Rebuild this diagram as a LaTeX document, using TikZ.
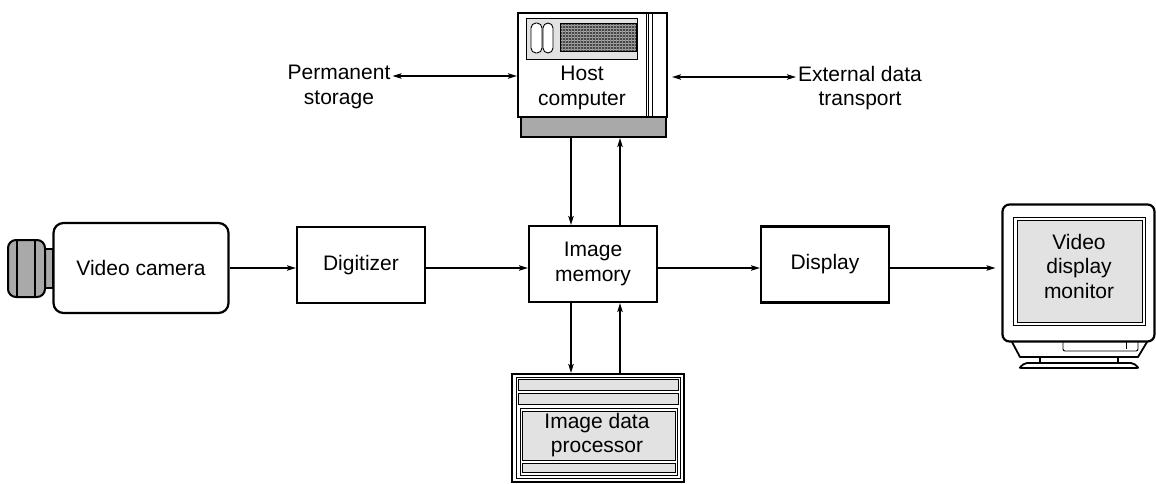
\documentclass[tikz,border=0pt]{standalone}
\usepackage{fontspec}
\setmainfont{Liberation Sans}
\usetikzlibrary{arrows.meta}
\definecolor{panel}{HTML}{E2E2E2}
\definecolor{metal}{HTML}{A9A9A9}
\begin{document}
\begin{tikzpicture}[x=1pt,y=-1pt,
  font=\fontsize{21}{24.5}\selectfont,
  box/.style={draw, line width=2.2pt, fill=white, minimum width=128pt, minimum height=76pt, inner sep=0pt, align=center},
  detail/.style={line width=0.9pt},
  heavy/.style={line width=2pt},
  flow/.style={line width=1.1pt, -{Stealth[length=9pt,width=5.5pt,inset=2pt]}},
  flowboth/.style={line width=1.1pt, {Stealth[length=9pt,width=5.5pt,inset=2pt]}-{Stealth[length=9pt,width=5.5pt,inset=2pt]}},
  sidetext/.style={align=center, inner sep=2pt},
]
\useasboundingbox (0,0) rectangle (1156,483);

% ---------- video camera ----------
\draw[line width=1.5pt, fill=metal] (45,249) rectangle (53,288);
\draw[heavy, fill=metal, rounded corners=8pt] (8,240) rectangle (45,297);
\draw[heavy] (17,240) -- (17,297);
\draw[heavy] (35,240) -- (35,297);
\node[draw, line width=2.2pt, fill=white, rounded corners=10pt,
      minimum width=175pt, minimum height=90pt, inner sep=0pt] (cam) at (141,268) {Video camera};

% ---------- processing chain ----------
\node[box] (dig)  at (361,265)   {Digitizer};
\node[box] (mem)  at (593,264)   {Image\\memory};
\node[box] (disp) at (825,264.5) {Display};

% ---------- host computer ----------
\node[draw, line width=2.2pt, minimum width=149pt, minimum height=104pt, inner sep=0pt] (host) at (592.5,65) {};
\node[draw, line width=2.2pt, fill=metal, minimum width=145pt, minimum height=20pt, inner sep=0pt] (hostbase) at (593.5,127) {};
\draw[detail, fill=panel] (526,18) rectangle (637,59);
\draw[detail, fill=white, rounded corners=5pt] (531,23) rectangle (542,53);
\draw[detail, fill=white, rounded corners=5pt] (543,23) rectangle (553,53);
\fill[black!72] (560,23) rectangle (636,51);
\foreach \yy in {25.5,28.5,...,50} \draw[black!35, line width=0.5pt] (560,\yy) -- (636,\yy);
\foreach \xx in {562,565,...,635} \draw[black!45, line width=0.4pt] (\xx,23) -- (\xx,51);
\draw[detail] (560,23) rectangle (636,51);
\draw[detail] (646,13) -- (646,117);
\draw[detail] (648.5,13) -- (648.5,117);
\draw[detail] (652,13) -- (652,117);
\node[align=center, inner sep=0pt] (hosttext) at (582,88) {Host\\computer};

% ---------- side links of the host ----------
\node[sidetext] (perm) at (339,87) {Permanent\\storage};
\node[sidetext] (ext)  at (860,88) {External data\\transport};
\coordinate (permA) at ([yshift=11pt]perm.east);
\coordinate (extA)  at ([yshift=11pt]ext.west);
\draw[flowboth] (permA) -- (permA -| host.west);
\draw[flowboth, shorten <=4pt] (extA -| host.east) -- (extA);

% ---------- image data processor ----------
\node[draw, line width=2.2pt, minimum width=172pt, minimum height=108pt, inner sep=0pt] (proc) at (598,428) {};
\draw[detail] (516,377.5) rectangle (680,478.5);
\draw[detail, fill=panel] (518,379) rectangle (678,390);
\draw[detail, fill=panel] (518,393) rectangle (678,404);
\draw[detail] (520,408) rectangle (677,475);
\draw[detail, fill=panel] (522,411) rectangle (675,460);
\draw[detail, fill=panel] (522,463) rectangle (675,472);
\node[align=center, inner sep=0pt] (proctext) at (597,435) {Image data\\processor};

% ---------- video display monitor ----------
\node[draw, line width=2.2pt, rounded corners=7pt, minimum width=152pt, minimum height=137pt, inner sep=0pt] (mon) at (1078.5,273) {};
\draw[detail, fill=white] (1013,217) rectangle (1145,325);
\draw[detail, fill=panel] (1017,220) rectangle (1142,322);
\node[align=center, inner sep=0pt] (montext) at (1079,266) {Video\\display\\monitor};
\draw[line width=1.8pt, line join=round] (1012,342) -- (1020,357) -- (1138,357) -- (1147,342);
\draw[detail, rounded corners=2pt] (1063,342) -- (1063,351) -- (1138,351) -- (1138,342);
\draw[detail] (1126,342) -- (1126,349);
\draw[line width=1.8pt] (1040,357) -- (1040,363);
\draw[line width=1.8pt] (1118,357) -- (1118,363);
\draw[line width=1.8pt, rounded corners=2pt] (1025,363) -- (1133,363) -- (1139,368) -- (1019,368) -- cycle;

% ---------- data flow ----------
\coordinate (row) at (cam.east);
\draw[flow] (row) -- (row -| dig.west);
\draw[flow] (row -| dig.east) -- (row -| mem.west);
\draw[flow] (row -| mem.east) -- (row -| disp.west);
\draw[flow, shorten >=6pt] (row -| disp.east) -- (row -| mon.west);

\coordinate (hd) at ([xshift=-22.5pt]hostbase.south);
\coordinate (hu) at ([xshift=26.5pt]hostbase.south);
\draw[flow] (hd) -- (hd |- mem.north);
\draw[flow] (hu |- mem.north) -- (hu);
\draw[flow] (hd |- mem.south) -- (hd |- proc.north);
\draw[flow] (hu |- proc.north) -- (hu |- mem.south);
\end{tikzpicture}
\end{document}
